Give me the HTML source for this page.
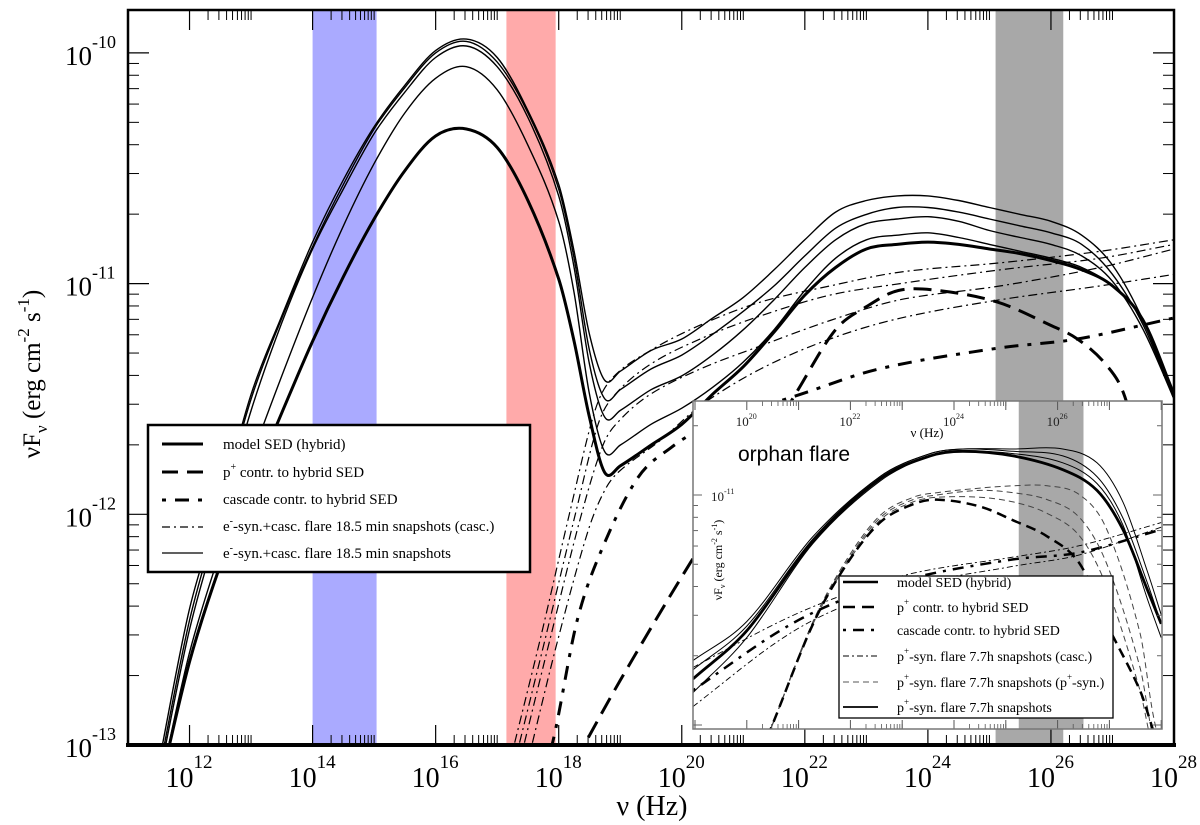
<!DOCTYPE html>
<html><head><meta charset="utf-8"><style>
html,body{margin:0;padding:0;background:#fff;}
svg{display:block;font-family:"Liberation Serif",serif;}
</style></head><body>
<svg id="chart" width="1200" height="825" viewBox="0 0 1200 825" xmlns="http://www.w3.org/2000/svg">
<defs>
<clipPath id="mainClip"><rect x="128" y="10" width="1046" height="735"/></clipPath>
<clipPath id="insetClip"><rect x="693" y="401" width="469" height="328"/></clipPath>
</defs>
<rect x="0" y="0" width="1200" height="825" fill="#fff"/>
<g id="bands"></g>
<g id="mainCurves" clip-path="url(#mainClip)"></g>
<g id="mainAxes"></g>
<g id="legend">
<rect x="148" y="425" width="382" height="147" fill="#fff" stroke="#000" stroke-width="2.5"/>
<line x1="162" y1="444" x2="203" y2="444" stroke="#000" stroke-width="3"/>
<line x1="162" y1="472" x2="203" y2="472" stroke="#000" stroke-width="3" stroke-dasharray="16 9"/>
<line x1="162" y1="500" x2="203" y2="500" stroke="#000" stroke-width="3" stroke-dasharray="4 9 14 9"/>
<line x1="162" y1="527" x2="203" y2="527" stroke="#000" stroke-width="1.2" stroke-dasharray="8 4 2 4"/>
<line x1="162" y1="553" x2="203" y2="553" stroke="#000" stroke-width="1.3"/>
<text x="223" y="449" font-size="15">model SED (hybrid)</text>
<text x="223" y="477" font-size="15">p<tspan dy="-7" font-size="10">+</tspan><tspan dy="7"> contr. to hybrid SED</tspan></text>
<text x="223" y="504" font-size="15">cascade contr. to hybrid SED</text>
<text x="223" y="531" font-size="15">e<tspan dy="-7" font-size="10">-</tspan><tspan dy="7">-syn.+casc. flare 18.5 min snapshots (casc.)</tspan></text>
<text x="223" y="558" font-size="15">e<tspan dy="-7" font-size="10">-</tspan><tspan dy="7">-syn.+casc. flare 18.5 min snapshots</tspan></text>
</g>
<g id="inset">
<rect x="693" y="401" width="469" height="328" fill="#fff"/>
<g id="insetBand"></g>
<g id="insetCurves" clip-path="url(#insetClip)"></g>
<g id="insetAxes"></g>
<rect x="693" y="401" width="469" height="328" fill="none" stroke="#777" stroke-width="1.5"/>
<text x="738" y="461" font-family="Liberation Sans, sans-serif" font-size="21">orphan flare</text>
<text x="927" y="437" font-size="13" text-anchor="middle">ν (Hz)</text>
<text transform="translate(722,560) rotate(-90)" font-size="12" text-anchor="middle">νF<tspan dy="3" font-size="8">ν</tspan><tspan dy="-3"> (erg cm</tspan><tspan dy="-5" font-size="8">-2</tspan><tspan dy="5"> s</tspan><tspan dy="-5" font-size="8">-1</tspan><tspan dy="5">)</tspan></text>
<g>
<rect x="839" y="576" width="274" height="142" fill="#fff" stroke="#000" stroke-width="1.3"/>
<line x1="843" y1="582" x2="878" y2="582" stroke="#000" stroke-width="2.5"/>
<line x1="843" y1="607" x2="878" y2="607" stroke="#000" stroke-width="2.5" stroke-dasharray="12 7"/>
<line x1="843" y1="630" x2="878" y2="630" stroke="#000" stroke-width="2.5" stroke-dasharray="3 7 11 7"/>
<line x1="843" y1="656" x2="878" y2="656" stroke="#000" stroke-width="0.9" stroke-dasharray="6 3 2 3"/>
<line x1="843" y1="682" x2="878" y2="682" stroke="#555" stroke-width="1" stroke-dasharray="6 4"/>
<line x1="843" y1="707" x2="878" y2="707" stroke="#000" stroke-width="1.8"/>
<text x="897" y="587" font-size="14">model SED (hybrid)</text>
<text x="897" y="612" font-size="14">p<tspan dy="-7" font-size="9">+</tspan><tspan dy="7"> contr. to hybrid SED</tspan></text>
<text x="897" y="635" font-size="14">cascade contr. to hybrid SED</text>
<text x="897" y="661" font-size="14">p<tspan dy="-7" font-size="9">+</tspan><tspan dy="7">-syn. flare 7.7h snapshots (casc.)</tspan></text>
<text x="897" y="687" font-size="14">p<tspan dy="-7" font-size="9">+</tspan><tspan dy="7">-syn. flare 7.7h snapshots (p</tspan><tspan dy="-7" font-size="9">+</tspan><tspan dy="7">-syn.)</tspan></text>
<text x="897" y="712" font-size="14">p<tspan dy="-7" font-size="9">+</tspan><tspan dy="7">-syn. flare 7.7h snapshots</tspan></text>
</g>
</g>
<text x="652" y="815" font-size="28" text-anchor="middle">ν (Hz)</text>
<text transform="translate(40,374) rotate(-90)" font-size="25" text-anchor="middle">νF<tspan dy="7" font-size="17">ν</tspan><tspan dy="-7"> (erg cm</tspan><tspan dy="-11" font-size="17">-2</tspan><tspan dy="11"> s</tspan><tspan dy="-11" font-size="17">-1</tspan><tspan dy="11">)</tspan></text>
</svg>
<script>
// ---------- main panel data (log10 nu, log10 nuFnu) ----------
const nuGrid = [11.5,12,12.5,13,13.5,14,14.5,15,15.5,16,16.5,17,17.5,18,18.25,18.5,18.75,19,19.5,20,20.5,21,21.5,22,22.5,23,23.5,24,24.5,25,25.5,26,26.5,27,27.5,28];
const modelSED = [-13.2,-12.64,-12.22,-11.88,-11.56,-11.25,-10.97,-10.72,-10.51,-10.36,-10.33,-10.41,-10.64,-10.98,-11.25,-11.58,-11.82,-11.79,-11.70,-11.61,-11.48,-11.36,-11.21,-11.05,-10.93,-10.85,-10.83,-10.82,-10.83,-10.85,-10.87,-10.90,-10.94,-11.01,-11.16,-11.48];
const snap1 = [-13.08,-12.41,-11.96,-11.48,-11.14,-10.82,-10.55,-10.32,-10.14,-9.99,-9.94,-10.02,-10.25,-10.57,-10.86,-11.22,-11.42,-11.38,-11.29,-11.24,-11.15,-11.06,-10.94,-10.81,-10.69,-10.64,-10.62,-10.62,-10.64,-10.67,-10.70,-10.73,-10.79,-10.92,-11.16,-11.50];
const snap2 = [-13.12,-12.46,-11.98,-11.50,-11.15,-10.84,-10.57,-10.33,-10.15,-10.00,-9.95,-10.04,-10.26,-10.59,-10.89,-11.29,-11.50,-11.46,-11.37,-11.31,-11.22,-11.12,-11.01,-10.88,-10.76,-10.70,-10.67,-10.67,-10.69,-10.72,-10.75,-10.78,-10.83,-10.96,-11.18,-11.50];
const snap3 = [-13.15,-12.50,-12.02,-11.55,-11.17,-10.85,-10.59,-10.35,-10.17,-10.02,-9.97,-10.06,-10.28,-10.62,-10.93,-11.35,-11.58,-11.55,-11.46,-11.40,-11.31,-11.20,-11.07,-10.93,-10.81,-10.74,-10.72,-10.71,-10.73,-10.77,-10.80,-10.83,-10.88,-10.99,-11.20,-11.50];
const snap4 = [-13.20,-12.60,-12.16,-11.76,-11.40,-11.06,-10.75,-10.48,-10.26,-10.11,-10.06,-10.16,-10.40,-10.73,-11.04,-11.48,-11.73,-11.70,-11.61,-11.54,-11.45,-11.34,-11.20,-11.03,-10.89,-10.81,-10.79,-10.78,-10.80,-10.83,-10.86,-10.89,-10.93,-11.01,-11.16,-11.50];
const pContrNu = [18.27,19.0,20.14,21.11,21.89,22.5,23.0,23.52,24.17,25.13,25.99,26.43,26.89,27.2,27.54];
const pContrF  = [-13.07,-12.72,-12.21,-11.81,-11.46,-11.20,-11.10,-11.03,-11.03,-11.08,-11.18,-11.24,-11.35,-11.49,-11.85];
const cascNu = [17.75,17.9,18.3,18.72,19.29,19.83,20.31,20.78,21.93,23.2,25.13,26.43,27.98];
const cascF  = [-13.07,-12.99,-12.46,-12.14,-11.84,-11.71,-11.63,-11.58,-11.48,-11.37,-11.28,-11.24,-11.15];
const dd1Nu = [17.21,17.70,18.19,18.59,18.87,19.49,20.30,21.28,22.41,23.55,25.18,26.80,28.0];
const dd1F  = [-13.07,-12.54,-11.98,-11.55,-11.41,-11.29,-11.18,-11.08,-11.01,-10.95,-10.91,-10.86,-10.81];
const dd2Nu = [17.29,17.78,18.27,18.64,18.92,19.49,20.30,21.28,22.41,23.55,25.18,26.80,28.0];
const dd2F  = [-13.07,-12.54,-12.00,-11.61,-11.48,-11.35,-11.24,-11.14,-11.05,-11.00,-10.94,-10.89,-10.83];
const dd3Nu = [17.37,17.86,18.35,18.72,19.0,19.49,20.30,21.28,22.41,23.55,25.18,26.80,28.0];
const dd3F  = [-13.07,-12.54,-12.02,-11.70,-11.59,-11.48,-11.37,-11.27,-11.16,-11.07,-11.01,-10.93,-10.85];
const dd4Nu = [17.50,17.99,18.48,18.76,19.0,19.65,20.30,21.28,22.41,23.55,25.18,26.80,28.0];
const dd4F  = [-13.07,-12.54,-12.07,-11.89,-11.81,-11.68,-11.53,-11.37,-11.24,-11.15,-11.07,-11.01,-10.96];
const bandBlue = [14.0,15.04];
const bandRed = [17.15,17.95];
const bandGray = [25.1,26.2];
const xTickExps = [12,14,16,18,20,22,24,26,28];
const yTickExps = [-13,-12,-11,-10];

// ---------- inset data ----------
const inModelNu = [18.96,20.0,21.28,22.57,23.54,24.17,25.14,26.10,26.76,27.26,27.73,28.0];
const inModelF  = [-11.80,-11.59,-11.20,-10.93,-10.83,-10.81,-10.83,-10.89,-10.98,-11.15,-11.41,-11.56];
const inSnap1F  = [-11.72,-11.55,-11.18,-10.92,-10.82,-10.80,-10.80,-10.80,-10.86,-11.03,-11.33,-11.52];
const inSnap2F  = [-11.76,-11.57,-11.19,-10.92,-10.82,-10.80,-10.81,-10.83,-10.92,-11.10,-11.38,-11.56];
const inSnap3F  = [-11.86,-11.62,-11.21,-10.94,-10.83,-10.81,-10.82,-10.86,-10.95,-11.13,-11.45,-11.62];
const inPNu = [20.40,20.51,21.28,21.93,22.57,23.21,23.67,24.50,25.14,25.80,26.43,26.95,27.59,27.84,28.1];
const inPF  = [-12.05,-11.99,-11.56,-11.30,-11.12,-11.04,-11.02,-11.05,-11.11,-11.18,-11.30,-11.56,-11.85,-12.02,-12.2];
const inPs1F = [-12.05,-11.99,-11.55,-11.28,-11.09,-11.01,-10.99,-10.97,-10.96,-10.96,-11.00,-11.15,-11.60,-11.95,-12.2];
const inPs2F = [-12.05,-11.99,-11.55,-11.29,-11.10,-11.02,-11.00,-10.98,-10.99,-11.02,-11.10,-11.30,-11.75,-12.05,-12.2];
const inPs3F = [-12.05,-11.99,-11.56,-11.30,-11.11,-11.03,-11.01,-11.01,-11.03,-11.08,-11.18,-11.40,-11.85,-12.1,-12.2];
const inCascNu = [18.96,20.64,21.80,23.21,25.14,26.43,28.0];
const inCascF  = [-11.85,-11.59,-11.46,-11.36,-11.28,-11.25,-11.15];
const inCasc1F = [-11.75,-11.55,-11.44,-11.34,-11.27,-11.22,-11.12];
const inCasc2F = [-11.92,-11.63,-11.49,-11.39,-11.31,-11.26,-11.14];
const inBandGray = [25.25,26.5];
const inXTickExps = [20,22,24,26];

// ---------- scales ----------
const X = v => 128 + (v - 11) * 61.53;
const Y = v => 745 - (v + 13) * 230.7;
const IX = v => 695 + (v - 19) * 51.8;
const IY = v => 495 - (v + 11) * 230;
const NS = 'http://www.w3.org/2000/svg';

// monotone-x cubic Hermite (handles uneven spacing)
function smoothPath(pts){
  const n = pts.length;
  const m = [];
  for (let i = 0; i < n; i++){
    const a = pts[Math.max(0,i-1)], b = pts[Math.min(n-1,i+1)];
    m.push((b[1]-a[1])/(b[0]-a[0]));
  }
  let d = 'M' + pts[0][0].toFixed(1) + ',' + pts[0][1].toFixed(1);
  for (let i = 0; i < n - 1; i++){
    const p1 = pts[i], p2 = pts[i+1], dx = (p2[0]-p1[0])/3;
    d += ' C' + (p1[0]+dx).toFixed(1) + ',' + (p1[1]+m[i]*dx).toFixed(1) + ' ' + (p2[0]-dx).toFixed(1) + ',' + (p2[1]-m[i+1]*dx).toFixed(1) + ' ' + p2[0].toFixed(1) + ',' + p2[1].toFixed(1);
  }
  return d;
}
function mk(tag, attrs, parent){
  const el = document.createElementNS(NS, tag);
  for (const k in attrs) el.setAttribute(k, attrs[k]);
  parent.appendChild(el);
  return el;
}
function curve(parent, nus, fs, sx, sy, width, dash, name, color){
  const pts = nus.map((n,i) => [sx(n), sy(fs[i])]);
  const p = mk('path', {d: smoothPath(pts), fill:'none', stroke: color || '#000', 'stroke-width': width, 'stroke-dasharray': dash || 'none', 'stroke-linejoin':'round'}, parent);
  
  
  return p;
}

// bands
const bands = document.getElementById('bands');
[[bandBlue,'#aaaaff','blue-band'],[bandRed,'#ffaaaa','red-band'],[bandGray,'#a8a8a8','gray-band']].forEach(b => {
  const r = mk('rect', {x: X(b[0][0]), y: 10, width: X(b[0][1]) - X(b[0][0]), height: 735, fill: b[1]}, bands);
  
  
});

// main curves
const mc = document.getElementById('mainCurves');
curve(mc, dd1Nu, dd1F, X, Y, 1.2, '9 4 2 4', 'casc-snapshot-1');
curve(mc, dd2Nu, dd2F, X, Y, 1.2, '9 4 2 4', 'casc-snapshot-2');
curve(mc, dd3Nu, dd3F, X, Y, 1.2, '9 4 2 4', 'casc-snapshot-3');
curve(mc, dd4Nu, dd4F, X, Y, 1.2, '9 4 2 4', 'casc-snapshot-4');
curve(mc, pContrNu, pContrF, X, Y, 3, '18 9', 'p-contribution-line');
curve(mc, cascNu, cascF, X, Y, 3, '4 9 14 9', 'cascade-contribution-line');
curve(mc, nuGrid, snap1, X, Y, 1.4, null, 'flare-snapshot-1');
curve(mc, nuGrid, snap2, X, Y, 1.4, null, 'flare-snapshot-2');
curve(mc, nuGrid, snap3, X, Y, 1.4, null, 'flare-snapshot-3');
curve(mc, nuGrid, snap4, X, Y, 1.4, null, 'flare-snapshot-4');
curve(mc, nuGrid, modelSED, X, Y, 3, null, 'model-sed-line');

// main axes
const ax = document.getElementById('mainAxes');
const frame = mk('rect', {x:128, y:10, width:1046, height:735, fill:'none', stroke:'#000', 'stroke-width':2.5}, ax);


mk('line', {x1:126, y1:745, x2:1176, y2:745, stroke:'#000', 'stroke-width':4}, ax);
for (let e = 11; e <= 28; e++){
  const x = X(e);
  if (e % 2 === 0){
    mk('line', {x1:x, y1:745, x2:x, y2:725, stroke:'#000', 'stroke-width':1.2}, ax);
    mk('line', {x1:x, y1:10, x2:x, y2:30, stroke:'#000', 'stroke-width':1.2}, ax);
    if (e < 28) for (let k = 2; k <= 10; k++){
      const xm = X(e + Math.log10(k));
      mk('line', {x1:xm, y1:745, x2:xm, y2:735, stroke:'#000', 'stroke-width':1}, ax);
      mk('line', {x1:xm, y1:10, x2:xm, y2:20, stroke:'#000', 'stroke-width':1}, ax);
    }
  }
}
xTickExps.forEach(e => {
  const t = mk('text', {x: X(e) - 24, y: 787, 'font-size': 28}, ax);
  t.textContent = '10';
  const s = mk('tspan', {dy: -19, 'font-size': 19}, t);
  s.textContent = String(e);
  
  
});
for (let e = -13; e <= -10; e++){
  const y = Y(e);
  mk('line', {x1:128, y1:y, x2:149, y2:y, stroke:'#000', 'stroke-width':1.2}, ax);
  mk('line', {x1:1174, y1:y, x2:1153, y2:y, stroke:'#000', 'stroke-width':1.2}, ax);
  for (let k = 2; k <= 9; k++){
    const ym = Y(e + Math.log10(k));
    if (ym < 10) continue;
    mk('line', {x1:128, y1:ym, x2:139, y2:ym, stroke:'#000', 'stroke-width':1}, ax);
    mk('line', {x1:1174, y1:ym, x2:1163, y2:ym, stroke:'#000', 'stroke-width':1}, ax);
  }
}
yTickExps.forEach(e => {
  const t = mk('text', {x: 65, y: Y(e) + 12, 'font-size': 27}, ax);
  t.textContent = '10';
  const s = mk('tspan', {dy: -17, 'font-size': 18}, t);
  s.textContent = String(e);
  
  
});

// inset
const ib = document.getElementById('insetBand');
const ir = mk('rect', {x: IX(inBandGray[0]), y: 401, width: IX(inBandGray[1]) - IX(inBandGray[0]), height: 328, fill:'#a8a8a8'}, ib);


const ic = document.getElementById('insetCurves');
curve(ic, inCascNu, inCasc1F, IX, IY, 0.9, '6 3 2 3', 'inset-casc-snapshot-1');
curve(ic, inCascNu, inCasc2F, IX, IY, 0.9, '6 3 2 3', 'inset-casc-snapshot-2');
curve(ic, inCascNu, inCascF, IX, IY, 2.5, '3 7 11 7', 'inset-cascade-line');
curve(ic, inPNu, inPs1F, IX, IY, 1, '6 4', 'inset-psyn-snapshot-1', '#444');
curve(ic, inPNu, inPs2F, IX, IY, 1, '6 4', 'inset-psyn-snapshot-2', '#444');
curve(ic, inPNu, inPs3F, IX, IY, 1, '6 4', 'inset-psyn-snapshot-3', '#444');
curve(ic, inPNu, inPF, IX, IY, 2.5, '10 6', 'inset-p-contribution-line');
curve(ic, inModelNu, inSnap1F, IX, IY, 1, null, 'inset-snapshot-1');
curve(ic, inModelNu, inSnap2F, IX, IY, 1, null, 'inset-snapshot-2');
curve(ic, inModelNu, inSnap3F, IX, IY, 1, null, 'inset-snapshot-3');
curve(ic, inModelNu, inModelF, IX, IY, 2.8, null, 'inset-model-sed-line');

const ia = document.getElementById('insetAxes');
for (let e = 19; e <= 28; e++){
  const x = IX(e);
  mk('line', {x1:x, y1:401, x2:x, y2:410, stroke:'#555', 'stroke-width':1}, ia);
  mk('line', {x1:x, y1:729, x2:x, y2:720, stroke:'#555', 'stroke-width':1}, ia);
  if (e % 2 === 0 && e < 28) for (let k = 2; k <= 10; k++){
    const xm = IX(e + Math.log10(k));
    mk('line', {x1:xm, y1:401, x2:xm, y2:406, stroke:'#555', 'stroke-width':0.8}, ia);
    mk('line', {x1:xm, y1:729, x2:xm, y2:724, stroke:'#555', 'stroke-width':0.8}, ia);
  }
}
for (let e = -12; e <= -11; e++){
  for (let k = 1; k <= 9; k++){
    const ym = IY(e + Math.log10(k));
    if (ym < 401 || ym > 729) continue;
    const len = k === 1 ? 9 : 5;
    mk('line', {x1:693, y1:ym, x2:693+len, y2:ym, stroke:'#555', 'stroke-width':0.9}, ia);
    mk('line', {x1:1162, y1:ym, x2:1162-len, y2:ym, stroke:'#555', 'stroke-width':0.9}, ia);
  }
}
inXTickExps.forEach(e => {
  const t = mk('text', {x: IX(e) - 11, y: 426, 'font-size': 13, fill:'#222'}, ia);
  t.textContent = '10';
  const s = mk('tspan', {dy: -7, 'font-size': 8}, t);
  s.textContent = String(e);
  
  
});
const iyl = mk('text', {x: 711, y: 501, 'font-size': 13, fill:'#222'}, ia);
iyl.textContent = '10';
const iys = mk('tspan', {dy: -7, 'font-size': 8}, iyl);
iys.textContent = '-11';


</script>
</body></html>
